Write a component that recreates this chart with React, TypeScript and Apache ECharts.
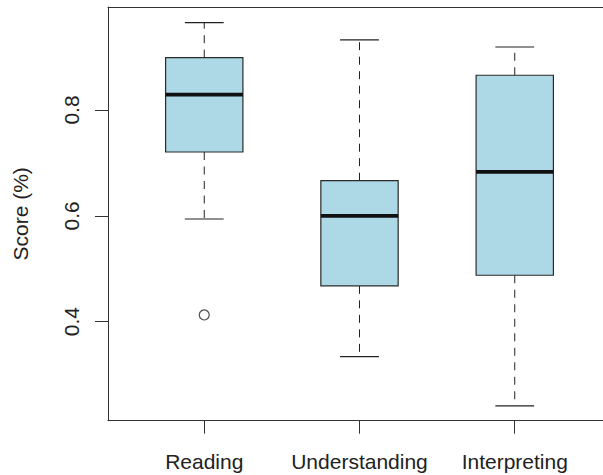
import React, { useEffect, useRef } from "react";
import * as echarts from "echarts";

const categories = ["Reading", "Understanding", "Interpreting"];
const lowerWhisker = [0.594, 0.334, 0.241];
const q1 = [0.7206, 0.4677, 0.4877];
const median = [0.829, 0.6, 0.683];
const q3 = [0.8988, 0.6664, 0.8656];
const upperWhisker = [0.965, 0.9323, 0.919];
// [category index, value]
const outliers = [[0, 0.4127]];
const yTicks = [0.4, 0.6, 0.8];

const INK = "#222";
const FRAME = "#333";
const FONT = "'Liberation Sans', Arial, Helvetica, sans-serif";

export default function App() {
  const ref = useRef<HTMLDivElement>(null);
  useEffect(() => {
    if (!ref.current) return;
    const chart = echarts.init(ref.current, undefined, { renderer: "svg" });
    const boxData = categories.map((_, i) => [
      i + 1,
      lowerWhisker[i],
      q1[i],
      median[i],
      q3[i],
      upperWhisker[i],
    ]);
    const frameLine = { show: true, onZero: false, lineStyle: { color: FRAME, width: 1 } };
    const option: any = {
      animation: false,
      backgroundColor: "#fff",
      grid: {
        left: 108,
        top: 7,
        right: 9,
        bottom: 54.3,
        show: false,
      },
      xAxis: [
        {
          type: "value",
          min: 0.38,
          max: 3.62,
          position: "bottom",
          splitLine: { show: false },
          axisLine: frameLine,
          axisTick: {
            show: true,
            length: 13,
            customValues: [1, 2, 3],
            lineStyle: { color: FRAME, width: 1 },
          },
          axisLabel: {
            customValues: [1, 2, 3],
            formatter: (v: number) => categories[Math.round(v) - 1] ?? "",
            margin: 30,
            fontSize: 21,
            fontFamily: FONT,
            color: INK,
          },
        },
        {
          type: "value",
          min: 0.38,
          max: 3.62,
          position: "top",
          splitLine: { show: false },
          axisLine: frameLine,
          axisTick: { show: false },
          axisLabel: { show: false },
        },
      ],
      yAxis: {
        type: "value",
        min: 0.2129,
        max: 0.9946,
        name: "Score (%)",
        nameLocation: "middle",
        nameRotate: 90,
        nameGap: 77,
        nameTextStyle: { fontSize: 21, fontFamily: FONT, color: INK },
        splitLine: { show: false },
        axisLine: frameLine,
        axisTick: {
          show: true,
          length: 13,
          customValues: yTicks,
          lineStyle: { color: FRAME, width: 1 },
        },
        axisLabel: {
          customValues: yTicks,
          rotate: 90,
          margin: 26,
          formatter: (v: number) => v.toFixed(1),
          fontSize: 21,
          fontFamily: FONT,
          color: INK,
        },
      },
      series: [
        {
          type: "custom",
          data: boxData,
          renderItem: (params: any, api: any) => {
            const x = api.value(0);
            const lo = api.value(1);
            const b1 = api.value(2);
            const md = api.value(3);
            const b3 = api.value(4);
            const hi = api.value(5);
            const half = api.size([0.249, 0])[0];
            const capHalf = api.size([0.125, 0])[0];
            const pLo = api.coord([x, lo]);
            const pQ1 = api.coord([x, b1]);
            const pMd = api.coord([x, md]);
            const pQ3 = api.coord([x, b3]);
            const pHi = api.coord([x, hi]);
            const cx = pMd[0];
            const dash = { stroke: INK, lineWidth: 1, lineDash: [8, 6.5] };
            const solid = { stroke: INK, lineWidth: 1.2 };
            return {
              type: "group",
              children: [
                { type: "line", shape: { x1: cx, y1: pQ3[1], x2: cx, y2: pHi[1] }, style: dash },
                { type: "line", shape: { x1: cx, y1: pQ1[1], x2: cx, y2: pLo[1] }, style: dash },
                { type: "line", shape: { x1: cx - capHalf, y1: pHi[1], x2: cx + capHalf, y2: pHi[1] }, style: solid },
                { type: "line", shape: { x1: cx - capHalf, y1: pLo[1], x2: cx + capHalf, y2: pLo[1] }, style: solid },
                {
                  type: "rect",
                  shape: { x: cx - half, y: pQ3[1], width: half * 2, height: pQ1[1] - pQ3[1] },
                  style: { fill: "#ADD8E6", stroke: "#2a2a2a", lineWidth: 1.2 },
                },
                {
                  type: "line",
                  shape: { x1: cx - half, y1: pMd[1], x2: cx + half, y2: pMd[1] },
                  style: { stroke: "#111", lineWidth: 3.6 },
                },
              ],
            };
          },
        },
        {
          type: "scatter",
          data: outliers.map((o) => [o[0] + 1, o[1]]),
          symbol: "circle",
          symbolSize: 10,
          itemStyle: { color: "transparent", borderColor: INK, borderWidth: 1.2 },
        },
      ],
    };
    chart.setOption(option);
    return () => chart.dispose();
  }, []);
  return (
    <div
      style={{
        position: "fixed",
        left: 0,
        top: 0,
        width: 603,
        height: 475,
        overflow: "hidden",
        background: "#fff",
      }}
    >
      <div ref={ref} style={{ width: 620, height: 475 }} />
    </div>
  );
}
